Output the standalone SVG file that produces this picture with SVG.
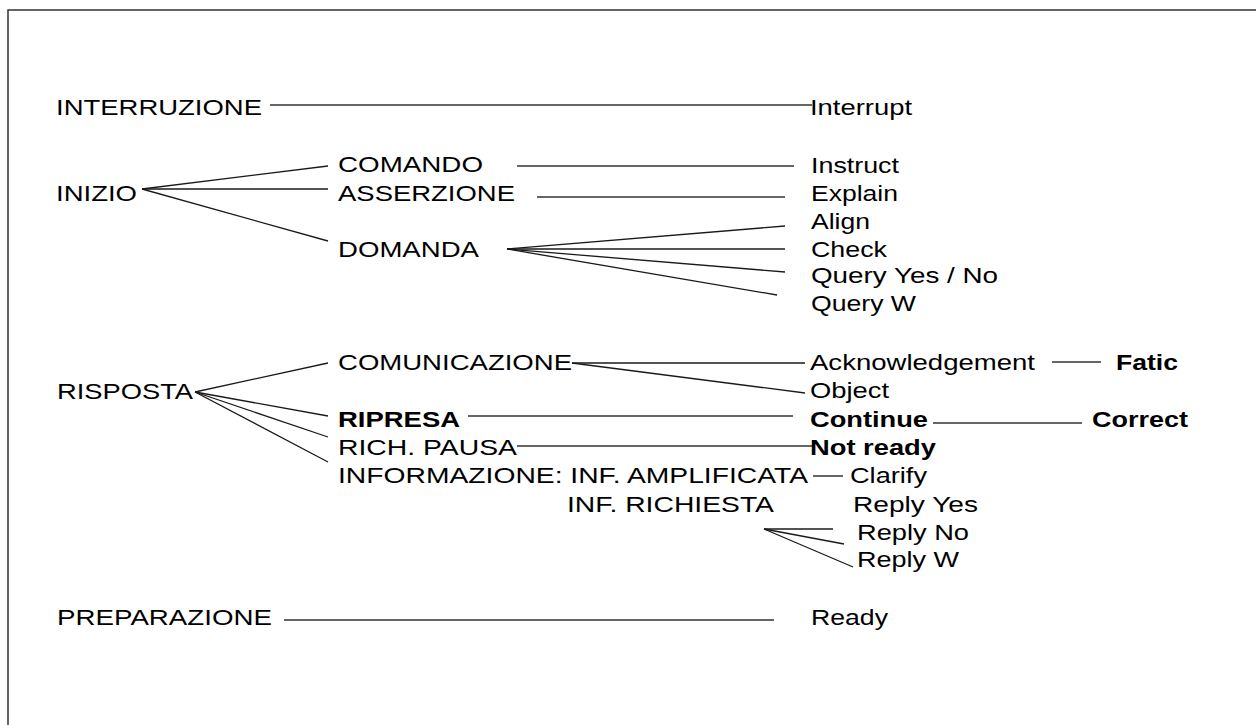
<svg xmlns="http://www.w3.org/2000/svg" width="1256" height="725" viewBox="0 0 1256 725">
  <style>
    text { font-family: "Liberation Sans", Arial, sans-serif; font-size: 22px; fill: #000; }
    .b { font-weight: bold; }
    .frame { fill: none; stroke: #333; stroke-width: 1.5; }
    #connectors line { stroke: #1a1a1a; stroke-width: 1.3; }
    #connectors line.h { stroke: #333; stroke-width: 1.5; }
  </style>
  <rect width="1256" height="725" fill="#fff"/>
  <path class="frame" d="M8,725 V10 H1256"/>

  <g id="connectors">
    <line class="h" x1="270" y1="105" x2="812" y2="105"/>
    <line x1="142" y1="189" x2="328" y2="166"/>
    <line x1="142" y1="189" x2="328" y2="189"/>
    <line x1="142" y1="189" x2="328" y2="241"/>
    <line class="h" x1="517" y1="166" x2="794" y2="166"/>
    <line class="h" x1="537" y1="197" x2="785" y2="197"/>
    <line x1="507" y1="249" x2="785" y2="226"/>
    <line x1="507" y1="249" x2="785" y2="249"/>
    <line x1="507" y1="249" x2="785" y2="272"/>
    <line x1="507" y1="249" x2="777" y2="295"/>
    <line x1="195" y1="392" x2="328" y2="363"/>
    <line x1="195" y1="392" x2="328" y2="416"/>
    <line x1="195" y1="392" x2="328" y2="437"/>
    <line x1="195" y1="392" x2="328" y2="462"/>
    <line x1="572" y1="363" x2="805" y2="363"/>
    <line x1="572" y1="363" x2="805" y2="393"/>
    <line class="h" x1="468" y1="416" x2="793" y2="416"/>
    <line class="h" x1="517" y1="446" x2="812" y2="446"/>
    <line class="h" x1="813" y1="476" x2="843" y2="476"/>
    <line x1="764" y1="529" x2="833" y2="529"/>
    <line x1="764" y1="529" x2="844" y2="544"/>
    <line x1="764" y1="529" x2="853" y2="567"/>
    <line class="h" x1="1052" y1="362" x2="1101" y2="362"/>
    <line class="h" x1="933" y1="423" x2="1082" y2="423"/>
    <line class="h" x1="284" y1="620" x2="774" y2="620"/>
  </g>

  <!-- left column: top-level moves -->
  <g id="interruzione"><text x="56" y="115" textLength="206" lengthAdjust="spacingAndGlyphs">INTERRUZIONE</text></g>
  <g id="inizio"><text x="56" y="201" textLength="81" lengthAdjust="spacingAndGlyphs">INIZIO</text></g>
  <g id="risposta"><text x="57" y="399" textLength="136" lengthAdjust="spacingAndGlyphs">RISPOSTA</text></g>
  <g id="preparazione"><text x="57" y="625" textLength="215" lengthAdjust="spacingAndGlyphs">PREPARAZIONE</text></g>

  <!-- middle column -->
  <g id="comando"><text x="338" y="172" textLength="145" lengthAdjust="spacingAndGlyphs">COMANDO</text></g>
  <g id="asserzione"><text x="338" y="201" textLength="177" lengthAdjust="spacingAndGlyphs">ASSERZIONE</text></g>
  <g id="domanda"><text x="338" y="257" textLength="141" lengthAdjust="spacingAndGlyphs">DOMANDA</text></g>
  <g id="comunicazione"><text x="338" y="370" textLength="234" lengthAdjust="spacingAndGlyphs">COMUNICAZIONE</text></g>
  <g id="ripresa"><text class="b" x="338" y="427" textLength="122" lengthAdjust="spacingAndGlyphs">RIPRESA</text></g>
  <g id="rich-pausa"><text x="338" y="455" textLength="179" lengthAdjust="spacingAndGlyphs">RICH. PAUSA</text></g>
  <g id="informazione"><text x="338" y="483" textLength="470" lengthAdjust="spacingAndGlyphs">INFORMAZIONE: INF. AMPLIFICATA</text></g>
  <g id="inf-richiesta"><text x="567" y="512" textLength="207" lengthAdjust="spacingAndGlyphs">INF. RICHIESTA</text></g>

  <!-- right column: move labels -->
  <g id="interrupt"><text x="810" y="115" textLength="102" lengthAdjust="spacingAndGlyphs">Interrupt</text></g>
  <g id="instruct"><text x="811" y="173" textLength="88" lengthAdjust="spacingAndGlyphs">Instruct</text></g>
  <g id="explain"><text x="811" y="201" textLength="87" lengthAdjust="spacingAndGlyphs">Explain</text></g>
  <g id="align"><text x="811" y="229" textLength="59" lengthAdjust="spacingAndGlyphs">Align</text></g>
  <g id="check"><text x="811" y="257" textLength="76" lengthAdjust="spacingAndGlyphs">Check</text></g>
  <g id="query-yn"><text x="811" y="283" textLength="187" lengthAdjust="spacingAndGlyphs">Query Yes / No</text></g>
  <g id="query-w"><text x="811" y="311" textLength="105" lengthAdjust="spacingAndGlyphs">Query W</text></g>
  <g id="acknowledgement"><text x="810" y="370" textLength="225" lengthAdjust="spacingAndGlyphs">Acknowledgement</text></g>
  <g id="object"><text x="810" y="398" textLength="79" lengthAdjust="spacingAndGlyphs">Object</text></g>
  <g id="continue"><text class="b" x="810" y="427" textLength="118" lengthAdjust="spacingAndGlyphs">Continue</text></g>
  <g id="not-ready"><text class="b" x="810" y="455" textLength="126" lengthAdjust="spacingAndGlyphs">Not ready</text></g>
  <g id="clarify"><text x="850" y="483" textLength="77" lengthAdjust="spacingAndGlyphs">Clarify</text></g>
  <g id="reply-yes"><text x="853" y="512" textLength="125" lengthAdjust="spacingAndGlyphs">Reply Yes</text></g>
  <g id="reply-no"><text x="857" y="540" textLength="112" lengthAdjust="spacingAndGlyphs">Reply No</text></g>
  <g id="reply-w"><text x="857" y="567" textLength="102" lengthAdjust="spacingAndGlyphs">Reply W</text></g>
  <g id="ready"><text x="811" y="625" textLength="77" lengthAdjust="spacingAndGlyphs">Ready</text></g>

  <!-- far right -->
  <g id="fatic"><text class="b" x="1116" y="370" textLength="62" lengthAdjust="spacingAndGlyphs">Fatic</text></g>
  <g id="correct"><text class="b" x="1092" y="427" textLength="96" lengthAdjust="spacingAndGlyphs">Correct</text></g>
</svg>
